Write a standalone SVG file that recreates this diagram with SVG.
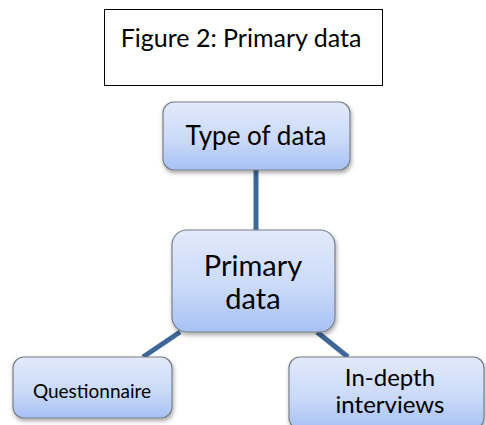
<svg xmlns="http://www.w3.org/2000/svg" width="486" height="425" viewBox="0 0 486 425">
  <defs>
    <linearGradient id="boxFill" x1="0" y1="0" x2="0" y2="1">
      <stop offset="0" stop-color="#e2eafb"/>
      <stop offset="0.55" stop-color="#cbdaf8"/>
      <stop offset="1" stop-color="#a6c1f3"/>
    </linearGradient>
    <filter id="shadow" x="-10%" y="-10%" width="125%" height="130%">
      <feDropShadow dx="1" dy="2.5" stdDeviation="2" flood-color="#000" flood-opacity="0.35"/>
    </filter>
  </defs>
  <style>
    .node { fill: url(#boxFill); stroke: #7a7f88; stroke-width: 1.2; filter: url(#shadow); }
    .label { font-family: Lato, "Open Sans", "Liberation Sans", sans-serif; fill: #000; text-anchor: middle; }
    .conn { stroke: #3d6699; stroke-width: 5; fill: none; }
  </style>
  <rect width="486" height="425" fill="#fff"/>

  <g id="title">
    <rect x="104.5" y="9.5" width="278" height="76" fill="#fff" stroke="#000" stroke-width="1"/>
    <text class="label" x="241" y="47" font-size="25">Figure 2: Primary data</text>
  </g>

  <g id="connectors">
    <line class="conn" x1="256" y1="170" x2="256" y2="231"/>
    <line class="conn" x1="143" y1="357" x2="180" y2="332"/>
    <line class="conn" x1="317" y1="332" x2="348" y2="357"/>
  </g>

  <g id="type-of-data">
    <rect class="node" x="163" y="102" width="187" height="68" rx="11"/>
    <text class="label" x="256" y="145" font-size="26">Type of data</text>
  </g>

  <g id="primary-data">
    <rect class="node" x="172" y="230" width="163" height="102" rx="15"/>
    <text class="label" x="253" y="276" font-size="29">Primary</text>
    <text class="label" x="253" y="309" font-size="29">data</text>
  </g>

  <g id="questionnaire">
    <rect class="node" x="13" y="357" width="159" height="61" rx="11"/>
    <text class="label" x="92" y="398" font-size="19">Questionnaire</text>
  </g>

  <g id="in-depth">
    <rect class="node" x="289" y="357" width="195" height="72" rx="11"/>
    <text class="label" x="390" y="386" font-size="24">In-depth</text>
    <text class="label" x="390" y="413" font-size="24">interviews</text>
  </g>
</svg>
